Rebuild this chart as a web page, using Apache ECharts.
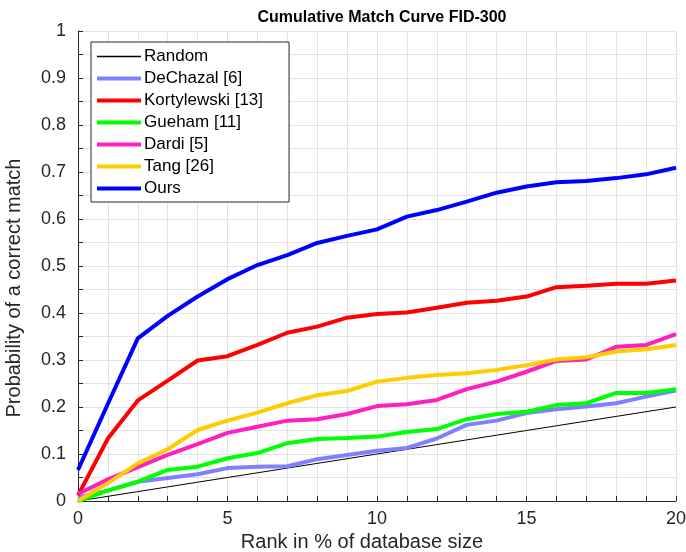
<!DOCTYPE html>
<html>
<head>
<meta charset="utf-8">
<script src="https://cdn.jsdelivr.net/npm/echarts@6/dist/echarts.min.js"></script>
<style>html,body{margin:0;padding:0;background:#fff}#c{width:686px;height:552px}</style>
</head>
<body>
<div id="c"></div>
<script>
const ranks = [0,1,2,3,4,5,6,7,8,9,10,11,12,13,14,15,16,17,18,19,20];
const random = [0,0.01,0.02,0.03,0.04,0.05,0.06,0.07,0.08,0.09,0.10,0.11,0.12,0.13,0.14,0.15,0.16,0.17,0.18,0.19,0.20];
const dechazal = [0.008,0.022,0.041,0.049,0.057,0.070,0.073,0.074,0.089,0.098,0.107,0.113,0.133,0.162,0.171,0.187,0.195,0.201,0.208,0.222,0.235];
const kortylewski = [0.012,0.133,0.214,0.256,0.299,0.308,0.332,0.358,0.371,0.390,0.398,0.401,0.411,0.422,0.426,0.435,0.455,0.458,0.462,0.462,0.469];
const gueham = [0.000,0.022,0.041,0.066,0.073,0.091,0.102,0.123,0.132,0.134,0.137,0.147,0.153,0.174,0.185,0.190,0.204,0.208,0.230,0.230,0.238];
const dardi = [0.015,0.046,0.072,0.098,0.121,0.145,0.158,0.171,0.174,0.185,0.202,0.206,0.215,0.238,0.254,0.275,0.298,0.301,0.328,0.332,0.355];
const tang = [0.000,0.038,0.080,0.110,0.151,0.171,0.188,0.208,0.225,0.234,0.254,0.262,0.268,0.272,0.279,0.289,0.301,0.306,0.318,0.323,0.332];
const ours = [0.066,0.207,0.346,0.394,0.435,0.472,0.502,0.523,0.549,0.564,0.578,0.605,0.619,0.637,0.656,0.669,0.678,0.681,0.687,0.695,0.709];
const legendNames = ['Random', 'DeChazal [6]', 'Kortylewski [13]', 'Gueham [11]', 'Dardi [5]', 'Tang [26]', 'Ours'];

const FONT = 'Liberation Sans';
function mk(name, arr, color, width) {
  return {
    name: name, type: 'line', symbol: 'none', smooth: false,
    data: ranks.map((r, i) => [r, arr[i]]),
    lineStyle: { color: color, width: width },
    itemStyle: { color: color },
    emphasis: { disabled: true }, animation: false, z: 3
  };
}
const thick = 'path://M0,0H44V4H0Z';
const thin = 'path://M0,0H44V1.5H0Z';
const chart = echarts.init(document.getElementById('c'), null, { renderer: 'canvas' });
chart.setOption({
  animation: false,
  backgroundColor: '#ffffff',
  title: {
    text: 'Cumulative Match Curve FID-300',
    left: 377, top: 5, textAlign: 'center',
    textStyle: { fontFamily: FONT, fontSize: 16, fontWeight: 'bold', color: '#000' }
  },
  legend: {
    orient: 'vertical', left: 91, top: 42,
    padding: [6, 26, 5, 6],
    itemWidth: 44, itemHeight: 14, itemGap: 5,
    backgroundColor: '#fff', borderColor: '#262626', borderWidth: 1,
    textStyle: { fontFamily: FONT, fontSize: 17, color: '#000', padding: [0, 0, 0, -2] },
    data: legendNames.map((n, i) => ({ name: n, icon: i === 0 ? thin : thick }))
  },
  grid: { left: 78, right: 10, top: 31, bottom: 51, containLabel: false, outerBoundsMode: 'none' },
  xAxis: {
    type: 'value', min: 0, max: 20, interval: 1,
    name: 'Rank in % of database size', nameLocation: 'middle', nameGap: 30,
    nameTextStyle: { fontFamily: FONT, fontSize: 20, color: '#262626', padding: [0, 30, 0, 0] },
    axisLine: { show: true, lineStyle: { color: '#262626', width: 1 } },
    axisTick: { show: true, inside: true, length: 5, lineStyle: { color: '#262626' } },
    axisLabel: {
      fontFamily: FONT, fontSize: 18, color: '#262626', margin: 9,
      formatter: v => (v % 5 === 0 ? String(v) : '')
    },
    splitLine: { show: true, lineStyle: { color: '#e3e3e3', width: 1 } }
  },
  yAxis: {
    type: 'value', min: 0, max: 1, interval: 0.05,
    name: 'Probability of a correct match', nameLocation: 'middle', nameGap: 54,
    nameTextStyle: { fontFamily: FONT, fontSize: 20, color: '#262626', padding: [0, 44, 0, 0] },
    axisLine: { show: true, lineStyle: { color: '#262626', width: 1 } },
    axisTick: { show: true, inside: true, length: 5, lineStyle: { color: '#262626' } },
    axisLabel: {
      fontFamily: FONT, fontSize: 18, color: '#262626', margin: 12,
      formatter: v => {
        const k = Math.round(v * 100);
        if (k % 10 !== 0) return '';
        return k === 0 ? '0' : (k === 100 ? '1' : String(k / 100));
      }
    },
    splitLine: { show: true, lineStyle: { color: '#e3e3e3', width: 1 } }
  },
  series: [
    mk('Random', random, '#000000', 1),
    mk('DeChazal [6]', dechazal, '#8080ff', 4),
    mk('Kortylewski [13]', kortylewski, '#ff0000', 4),
    mk('Gueham [11]', gueham, '#00ff00', 4),
    mk('Dardi [5]', dardi, '#ff1fbf', 4),
    mk('Tang [26]', tang, '#ffcc00', 4),
    mk('Ours', ours, '#0000ff', 4)
  ]
});
</script>
</body>
</html>
